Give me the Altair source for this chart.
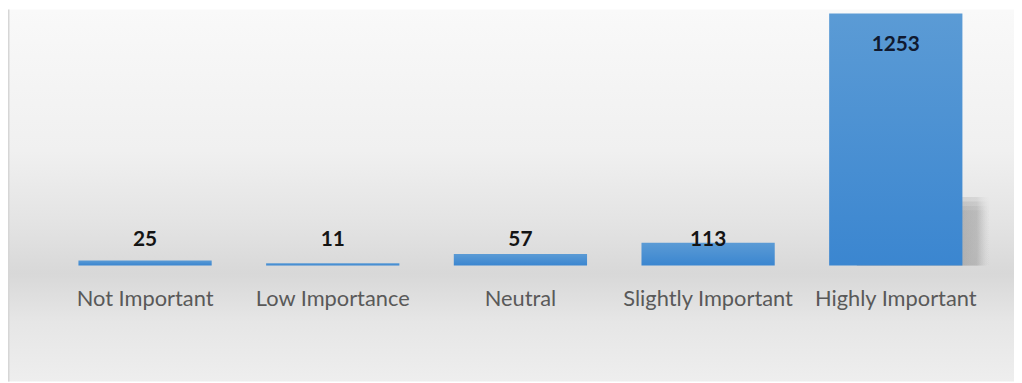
import altair as alt
import pandas as pd

categories = ["Not Important", "Low Importance", "Neutral", "Slightly Important", "Highly Important"]
values = [25, 11, 57, 113, 1253]

df = pd.DataFrame({"category": categories, "value": values})
max_val = max(values)

W, H = 1014, 375

x_enc = alt.X("category:N", sort=categories, axis=None,
              scale=alt.Scale(range=[71, 962], paddingInner=0.29, paddingOuter=0))
y_scale = alt.Scale(domain=[0, max_val], range=[258, 4], nice=False, zero=True)

bg_grad = alt.LinearGradient(
    gradient="linear", x1=0, y1=0, x2=0, y2=1,
    stops=[
        alt.GradientStop(offset=0.0, color="#f9f9f9"),
        alt.GradientStop(offset=0.38, color="#f0f0f0"),
        alt.GradientStop(offset=0.58, color="#e3e3e3"),
        alt.GradientStop(offset=0.71, color="#d8d8d8"),
        alt.GradientStop(offset=0.84, color="#e6e6e6"),
        alt.GradientStop(offset=1.0, color="#eeeeee"),
    ],
)
bar_grad = alt.LinearGradient(
    gradient="linear", x1=0, y1=0, x2=0, y2=1,
    stops=[
        alt.GradientStop(offset=0.0, color="#5b9bd5"),
        alt.GradientStop(offset=1.0, color="#3b86d0"),
    ],
)
shadow_grad = alt.LinearGradient(
    gradient="linear", x1=0, y1=0, x2=1, y2=0,
    stops=[
        alt.GradientStop(offset=0.0, color="#a0a0a0"),
        alt.GradientStop(offset=0.80, color="#a4a4a4"),
        alt.GradientStop(offset=0.90, color="#aeaeae"),
        alt.GradientStop(offset=1.0, color="rgba(215,215,215,0)"),
    ],
)

background = alt.Chart(pd.DataFrame({"k": [0]})).mark_rect(color=bg_grad).encode(
    x=alt.value(0), x2=alt.value(W), y=alt.value(0), y2=alt.value(H)
)
left_edge = alt.Chart(pd.DataFrame({"k": [0]})).mark_rule(color="#d6d6d6", strokeWidth=1.5).encode(
    x=alt.value(0.75), y=alt.value(0), y2=alt.value(H)
)

base = alt.Chart(df)

shadow_layers = []
for top in ["340", "318", "296", "274"]:
    shadow_layers.append(
        base.transform_filter(alt.datum.value == max_val)
        .transform_calculate(s_bottom="0", s_top=top)
        .mark_bar(color=shadow_grad, xOffset=28, opacity=0.3)
        .encode(
            x=x_enc,
            y=alt.Y("s_bottom:Q", scale=y_scale, axis=None),
            y2=alt.Y2("s_top:Q"),
        )
    )

bars = base.mark_bar(color=bar_grad).encode(
    x=x_enc,
    y=alt.Y("value:Q", scale=y_scale, axis=None),
)

labels_small = base.transform_filter(alt.datum.value < max_val).mark_text(
    font="Lato", fontSize=21, fontWeight="bold", color="#141414", baseline="alphabetic"
).encode(
    x=x_enc,
    y=alt.value(238),
    text="value:Q",
)

label_max = base.transform_filter(alt.datum.value == max_val).mark_text(
    font="Lato", fontSize=21, fontWeight="bold", color="#101a30", baseline="alphabetic", dy=38
).encode(
    x=x_enc,
    y=alt.Y("value:Q", scale=y_scale, axis=None),
    text="value:Q",
)

cat_labels = base.mark_text(
    font="Lato", fontSize=22, color="#595959", baseline="alphabetic"
).encode(
    x=x_enc,
    y=alt.value(299),
    text="category:N",
)

chart = alt.layer(background, left_edge, *shadow_layers, bars, labels_small, label_max, cat_labels).properties(
    width=W, height=H, padding=0, autosize=alt.AutoSizeParams(type="none")
).configure_view(stroke=None)

chart.save("out.html", embed_options={"renderer": "svg", "actions": False})
